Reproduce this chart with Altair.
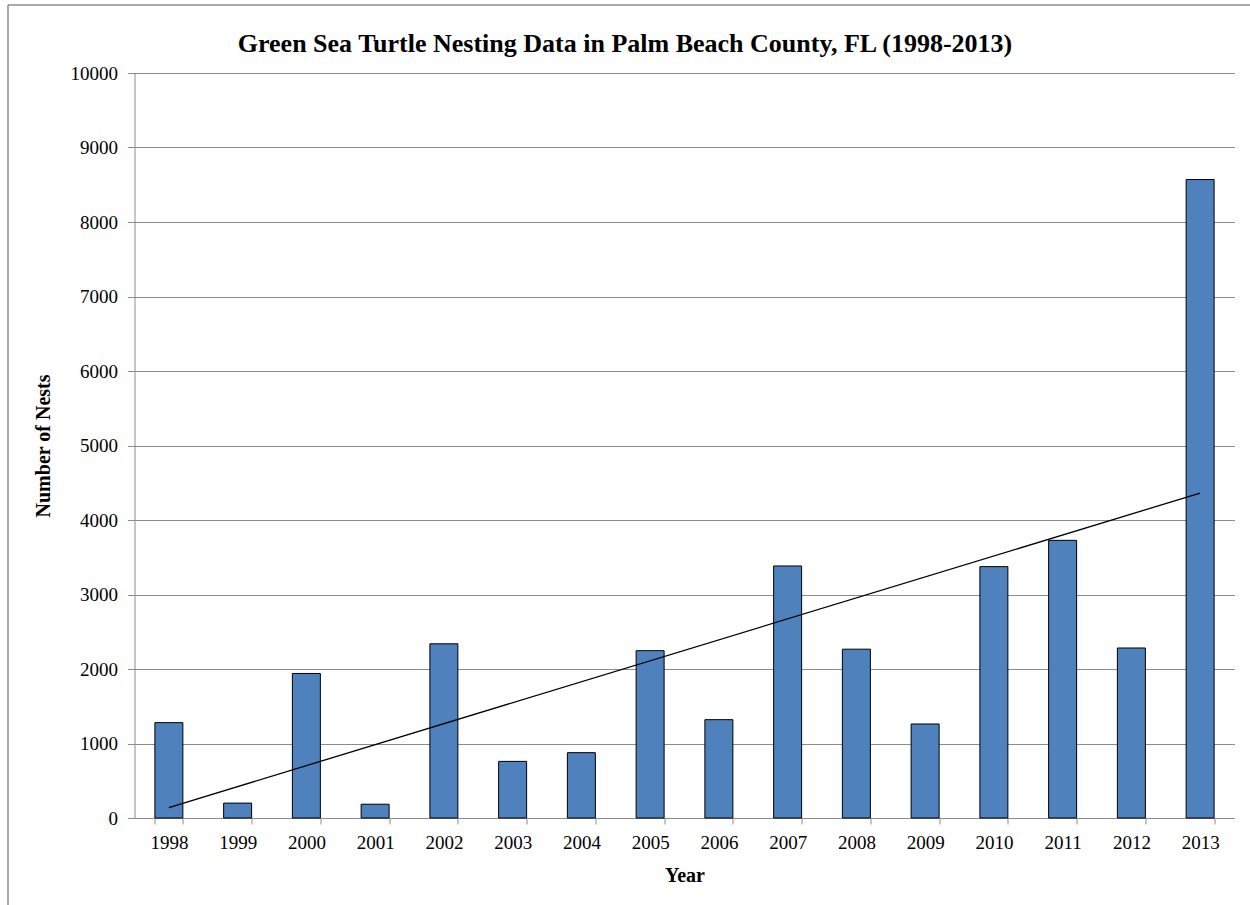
import altair as alt
import pandas as pd

years = [str(y) for y in range(1998, 2014)]
nests = [1280, 200, 1940, 185, 2338, 760, 877, 2246, 1320, 3383, 2266, 1262, 3374, 3727, 2282, 8570]
idx = list(range(len(years)))
title_text = "Green Sea Turtle Nesting Data in Palm Beach County, FL (1998-2013)"

df = pd.DataFrame({"Year": years, "Nests": nests, "idx": idx})

SERIF = "Liberation Serif"
GRID = "#8c8c8c"

x_enc = alt.X(
    "Year:O",
    sort=years,
    scale=alt.Scale(paddingInner=0.593, paddingOuter=0.2965),
    axis=alt.Axis(
        title="Year", labelAngle=0, tickBand="extent", tickSize=6,
        labelPadding=9, titlePadding=13,
    ),
)

bars = alt.Chart(df).mark_bar(
    color="#4F81BD", stroke="black", strokeWidth=1
).encode(
    x=x_enc,
    y=alt.Y(
        "Nests:Q",
        scale=alt.Scale(domain=[0, 10000], nice=False),
        axis=alt.Axis(
            title="Number of Nests", values=list(range(0, 10001, 1000)), format="d",
            grid=True, tickSize=7, labelPadding=10,
            titleX=-91, titleY=372.5, titleAngle=270, titleAlign="center",
            titleBaseline="middle",
        ),
    ),
)

trend = alt.Chart(df).transform_regression(
    "idx", "Nests", method="linear"
).transform_calculate(
    Year="toString(1998 + round(datum.idx))"
).mark_line(color="black", strokeWidth=1.3).encode(
    x=alt.X("Year:O", sort=years),
    y="Nests:Q",
)

title_df = pd.DataFrame({"t": [title_text]})
title = alt.Chart(title_df).mark_text(
    font="Liberation Serif, Times New Roman, serif", fontSize=26, fontWeight="bold",
    color="black", align="center", baseline="alphabetic",
).encode(text="t:N", x=alt.value(490.5), y=alt.value(-21))

frame_df = pd.DataFrame({"a": [0]})
frame_left = alt.Chart(frame_df).mark_rule(color="#8c8c8c", strokeWidth=1.5).encode(
    x=alt.value(-126.5), y=alt.value(-68), y2=alt.value(832)
)
frame_top = alt.Chart(frame_df).mark_rule(color="#8c8c8c", strokeWidth=1.5).encode(
    x=alt.value(-126.5), x2=alt.value(1116), y=alt.value(-68)
)

chart = alt.layer(bars, trend, title, frame_left, frame_top).properties(
    width=1100,
    height=745,
    autosize=alt.AutoSizeParams(type="none"),
    padding={"left": 134.5, "top": 73, "right": 15.5, "bottom": 87},
).configure_view(
    stroke=None
).configure_axis(
    labelFont=SERIF, labelFontSize=19, labelColor="black",
    titleFont=SERIF, titleFontSize=20, titleFontWeight="bold", titleColor="black",
    domainColor=GRID, tickColor=GRID, gridColor=GRID, gridOpacity=1,
    domainWidth=1, tickWidth=1, gridWidth=1,
).configure_axisX(grid=False)

chart.save("out.html", embed_options={"renderer": "svg", "actions": False})
